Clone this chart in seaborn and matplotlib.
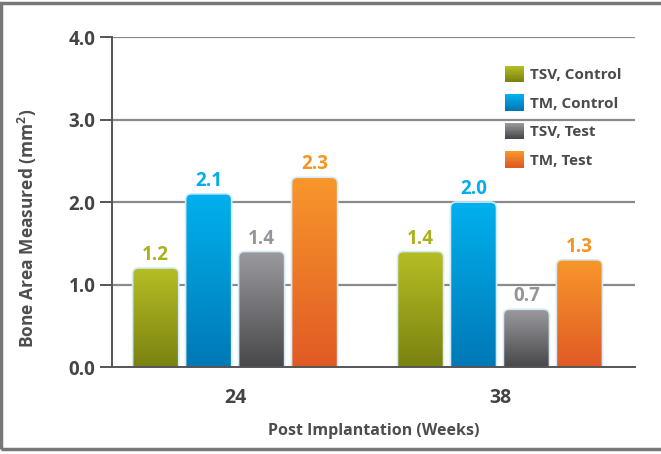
import numpy as np
import pandas as pd
import matplotlib
matplotlib.use("Agg")
import matplotlib.pyplot as plt
import seaborn as sns
from matplotlib.patches import FancyBboxPatch, Rectangle
from matplotlib.legend_handler import HandlerBase
from matplotlib.colors import to_rgb

weeks = ["24", "38"]
groups = ["TSV, Control", "TM, Control", "TSV, Test", "TM, Test"]
tsv_control = [1.2, 1.4]
tm_control = [2.1, 2.0]
tsv_test = [1.4, 0.7]
tm_test = [2.3, 1.3]
y_ticks = [0.0, 1.0, 2.0, 3.0, 4.0]
x_label = "Post Implantation (Weeks)"
y_label = "Bone Area Measured (mm$^2$)"

top_colors = ["#b6be24", "#00b1ee", "#9b9b9f", "#f8972b"]
bottom_colors = ["#7a8211", "#0078b6", "#48484b", "#e05a25"]
label_colors = ["#a9b21c", "#00aeef", "#939598", "#f7941d"]

rows = []
for g, vals in zip(groups, [tsv_control, tm_control, tsv_test, tm_test]):
    for w, v in zip(weeks, vals):
        rows.append({"week": w, "group": g, "value": v})
df = pd.DataFrame(rows)

sns.set_theme(style="white")
plt.rcParams["font.family"] = ["Open Sans", "DejaVu Sans"]
plt.rcParams["font.weight"] = "bold"
plt.rcParams["mathtext.default"] = "regular"

fig = plt.figure(figsize=(6.61, 4.54), dpi=100)
ax = fig.add_axes([0.1694, 0.1916, 0.7913, 0.7269])

sns.barplot(data=df, x="week", y="value", hue="group", order=weeks,
            hue_order=groups, palette=top_colors, width=0.8, gap=0.13,
            legend=False, ax=ax, errorbar=None)

XMIN, XMAX = -0.465, 1.51
YMIN, YMAX = 0.0, 4.0
rx = 6 / 265
ry = 6 / 82.5

def grad_img(top, bot, n=256):
    t = np.linspace(0, 1, n)[:, None]
    a = np.array(to_rgb(top)); b = np.array(to_rgb(bot))
    return (a * (1 - t) + b * t).reshape(n, 1, 3)

for ci, cont in enumerate(ax.containers):
    for bar in cont:
        x0 = bar.get_x(); w = bar.get_width(); h = bar.get_height()
        bar.set_visible(False)
        fb = FancyBboxPatch((x0, -ry * 2), w, h + ry * 2,
                            boxstyle=f"round,pad=0,rounding_size={rx}",
                            mutation_aspect=ry / rx, facecolor="none",
                            edgecolor="#d4ecf7", linewidth=1.2, zorder=4)
        ax.add_patch(fb)
        im = ax.imshow(grad_img(top_colors[ci], bottom_colors[ci]),
                       extent=[x0, x0 + w, 0, h], origin="upper",
                       aspect="auto", zorder=3, interpolation="bilinear")
        im.set_clip_path(fb)
        ax.annotate(f"{h:.1f}", (x0 + w / 2, h), xytext=(0, 2),
                    textcoords="offset points", ha="center", va="bottom",
                    color=label_colors[ci], fontsize=13.5, fontweight="bold",
                    zorder=5)

ax.set_xlim(XMIN, XMAX)
ax.set_ylim(YMIN, YMAX)
ax.set_yticks(y_ticks)
ax.set_yticklabels([f"{v:.1f}" for v in y_ticks])
for v in y_ticks[1:]:
    ax.axhline(v, color="#8a8a8a", lw=1.6, zorder=1)

for s in ["top", "right"]:
    ax.spines[s].set_visible(False)
for s in ["left", "bottom"]:
    ax.spines[s].set_color("#555555")
    ax.spines[s].set_linewidth(1.4)
    ax.spines[s].set_zorder(6)

ax.set_xticks([0, 1])
ax.set_xticklabels(weeks)
ax.set_xticks([XMIN, 0.5, XMAX], minor=True)
ax.tick_params(axis="x", which="major", length=0, pad=15, labelsize=14,
               labelcolor="#444444")
ax.tick_params(axis="x", which="minor", length=9, width=1.4, color="#555555",
               direction="out")
ax.tick_params(axis="y", length=9, width=1.4, color="#555555", direction="out",
               labelsize=13.5, labelcolor="#444444", pad=3, left=True)
for t in ax.get_xticklabels():
    t.set_fontweight("bold")
for t in ax.get_yticklabels():
    t.set_fontweight("bold")

ax.set_xlabel(x_label, fontsize=11.5, fontweight="bold", color="#4d4d4d",
              labelpad=11)
ax.set_ylabel(y_label, fontsize=12.5, fontweight="bold", color="#4d4d4d")
ax.yaxis.set_label_coords(-0.14, 0.42)


class HandlerGradient(HandlerBase):
    def __init__(self, top, bot):
        super().__init__()
        self.top = np.array(to_rgb(top)); self.bot = np.array(to_rgb(bot))

    def create_artists(self, legend, orig_handle, xdescent, ydescent, width,
                       height, fontsize, trans):
        arts = []
        n = 20
        for i in range(n):
            t = i / (n - 1)
            c = self.top * (1 - t) + self.bot * t
            r = Rectangle((-xdescent, -ydescent + height * (1 - (i + 1) / n)),
                          width, height / n + 0.3, facecolor=c, edgecolor="none",
                          transform=trans)
            arts.append(r)
        return arts

handles = [Rectangle((0, 0), 1, 1) for _ in groups]
hmap = {h: HandlerGradient(t, b) for h, t, b in zip(handles, top_colors, bottom_colors)}
leg = ax.legend(handles, groups, handler_map=hmap, loc="upper left",
                bbox_to_anchor=(0.751, 0.912), frameon=False, fontsize=11,
                handlelength=1.25, handleheight=1.25, labelspacing=0.8,
                handletextpad=0.4, borderpad=0, borderaxespad=0)
for t in leg.get_texts():
    t.set_color("#4a4a4a"); t.set_fontweight("bold")

fig.patches.append(Rectangle((0.0015, 0.012), 1.1, 0.982, transform=fig.transFigure,
                             fill=False, edgecolor="#777777", linewidth=2.5))

fig.savefig("out.png", dpi=100)
